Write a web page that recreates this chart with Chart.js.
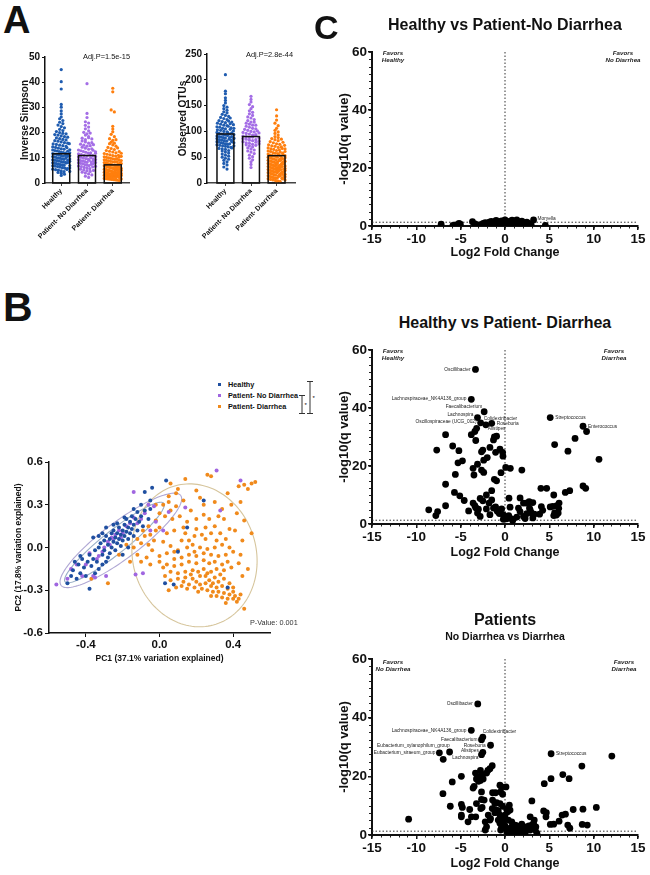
<!DOCTYPE html>
<html>
<head>
<meta charset="utf-8">
<title>Diversity and differential abundance</title>
<script src="https://cdn.jsdelivr.net/npm/chart.js@4.4.1/dist/chart.umd.min.js"></script>
<style>
  body { margin: 0; background: #fff; }
  #fig { position: relative; width: 650px; height: 875px; background: #fff; overflow: hidden;
         font-family: "Liberation Sans", Arial, sans-serif; color: #111; }
  #fig canvas { position: absolute; }
  .t { position: absolute; white-space: nowrap; height: 20px; line-height: 20px; }
  .c { text-align: center; width: 300px; }
  .b { font-weight: bold; }
  .fav { position: absolute; font-style: italic; font-weight: bold; font-size: 6.2px; line-height: 7px;
         text-align: center; width: 60px; white-space: pre; color: #222; }
  .dot { position: absolute; width: 3px; height: 3px; }
</style>
</head>
<body>
<div id="fig">
  <canvas id="a1" width="140" height="210" style="left:0;top:45px"></canvas>
  <canvas id="a2" width="145" height="210" style="left:160px;top:45px"></canvas>
  <canvas id="pca" width="300" height="220" style="left:0;top:450px"></canvas>
  <canvas id="c1" width="320" height="232" style="left:330px;top:40px"></canvas>
  <canvas id="c2" width="320" height="232" style="left:330px;top:338px"></canvas>
  <canvas id="c3" width="320" height="228" style="left:330px;top:647px"></canvas>

  <div class="t b" style="left:3px;top:0;height:40px;line-height:40px;font-size:38px">A</div>
  <div class="t b" style="left:3px;top:287px;height:40px;line-height:40px;font-size:41px">B</div>
  <div class="t b" style="left:314px;top:7px;height:40px;line-height:40px;font-size:34px">C</div>

  <div class="t" style="left:83px;top:47px;font-size:7.4px">Adj.P=1.5e-15</div>
  <div class="t" style="left:246px;top:45px;font-size:7.4px">Adj.P=2.8e-44</div>

  <div class="dot" style="left:218px;top:383px;background:#1f4fa0"></div>
  <div class="dot" style="left:218px;top:394px;background:#a066e0"></div>
  <div class="dot" style="left:218px;top:405px;background:#f08a1c"></div>
  <div class="t b" style="left:228px;top:375px;font-size:7.3px">Healthy</div>
  <div class="t b" style="left:228px;top:386px;font-size:7.3px">Patient- No Diarrhea</div>
  <div class="t b" style="left:228px;top:397px;font-size:7.3px">Patient- Diarrhea</div>
  <svg style="position:absolute;left:295px;top:376px" width="25" height="42">
    <g stroke="#333" stroke-width="1" fill="none">
      <path d="M4 19.5 H10 M7 19.5 V37.5 M4 37.5 H10"/>
      <path d="M12 5.5 H18 M15 5.5 V37.5 M12 37.5 H18"/>
    </g>
    <text x="9.5" y="31" font-size="6" font-family="Liberation Sans, Arial">*</text>
    <text x="17.5" y="24" font-size="6" font-family="Liberation Sans, Arial">*</text>
  </svg>
  <div class="t" style="left:250px;top:613px;font-size:7.3px;color:#333">P-Value: 0.001</div>

  <div class="t b c" style="left:355px;top:15px;font-size:16px">Healthy vs Patient-No Diarrhea</div>
  <div class="t b c" style="left:355px;top:313px;font-size:16px">Healthy vs Patient- Diarrhea</div>
  <div class="t b c" style="left:355px;top:610px;font-size:16px">Patients</div>
  <div class="t b c" style="left:355px;top:626px;font-size:10.5px">No Diarrhea vs Diarrhea</div>

  <div class="fav" style="left:363px;top:48.5px">Favors
Healthy</div>
  <div class="fav" style="left:593px;top:48.5px">Favors
No Diarrhea</div>
  <div class="fav" style="left:363px;top:346.5px">Favors
Healthy</div>
  <div class="fav" style="left:584px;top:346.5px">Favors
Diarrhea</div>
  <div class="fav" style="left:363px;top:657.5px">Favors
No Diarrhea</div>
  <div class="fav" style="left:594px;top:657.5px">Favors
Diarrhea</div>
</div>

<script>
// ---- panel A : alpha diversity ----
const groupNames = ['Healthy', 'Patient- No Diarrhea', 'Patient- Diarrhea'];
const simpsonMeans = [11.6, 10.9, 7.2];
const otuMeans = [95, 90, 53];

const simpsonHealthy = [45.0, 40.2, 37.3, 31.2, 30.1, 28.6, 27.4, 26.2, 25.5, 24.8, 24.1, 23.6, 23.0, 22.4, 21.9, 21.3, 20.8, 20.4, 20.0, 19.7, 19.5, 19.2, 19.0, 18.7, 18.4, 18.2, 17.9, 17.6, 17.3, 17.1, 16.8, 16.6, 16.3, 16.0, 15.8, 15.5, 15.3, 15.0, 14.8, 14.5, 14.3, 14.1, 13.8, 13.6, 13.4, 13.1, 12.9, 12.7, 12.5, 12.3, 12.1, 11.9, 11.7, 11.5, 11.3, 11.1, 10.9, 10.7, 10.5, 10.3, 10.1, 9.9, 9.8, 9.6, 9.4, 9.2, 9.0, 8.9, 8.7, 8.5, 8.3, 8.2, 8.0, 7.8, 7.7, 7.5, 7.3, 7.2, 7.0, 6.8, 6.7, 6.5, 6.3, 6.1, 5.9, 5.7, 5.5, 5.3, 5.1, 4.8, 4.5, 4.2, 3.9, 3.5, 3.0, 15.6, 14.0, 12.6, 11.0, 10.0, 9.1, 8.6, 7.9, 13.2, 11.4, 10.6, 9.5, 8.1, 12.0, 10.8, 6.9, 6.0, 5.4, 4.6];
const simpsonNoDiar = [39.4, 27.6, 26.0, 24.3, 23.8, 22.9, 22.2, 21.5, 20.7, 20.1, 19.5, 19.0, 18.4, 17.8, 17.2, 16.7, 16.3, 15.8, 15.4, 15.0, 14.6, 14.2, 13.8, 13.4, 13.1, 12.8, 12.5, 12.2, 11.9, 11.6, 11.3, 11.0, 10.7, 10.4, 10.2, 9.9, 9.7, 9.4, 9.2, 8.9, 8.7, 8.5, 8.2, 8.0, 7.8, 7.6, 7.3, 7.1, 6.9, 6.7, 6.5, 6.2, 6.0, 5.7, 5.5, 5.2, 4.9, 4.6, 4.3, 4.0, 3.6, 3.2, 2.7, 2.2, 12.0, 11.1, 10.0, 9.0, 8.3, 7.4, 13.6, 10.9, 9.6, 8.8, 14.8, 16.0, 18.0, 11.8, 10.5, 7.7, 6.4, 5.0, 19.8, 17.5, 15.2, 13.0, 12.4, 9.3, 8.1, 6.6];
const simpsonDiar = [37.6, 36.2, 29.0, 28.2, 22.5, 21.4, 20.3, 19.3, 18.4, 17.6, 16.9, 16.2, 15.6, 15.1, 14.6, 14.1, 13.7, 13.3, 12.9, 12.6, 12.3, 12.0, 11.7, 11.4, 11.2, 10.9, 10.7, 10.4, 10.2, 10.0, 9.8, 9.6, 9.4, 9.2, 9.0, 8.8, 8.6, 8.4, 8.3, 8.1, 7.9, 7.8, 7.6, 7.4, 7.3, 7.1, 7.0, 6.8, 6.7, 6.5, 6.4, 6.2, 6.1, 5.9, 5.8, 5.7, 5.5, 5.4, 5.3, 5.1, 5.0, 4.9, 4.8, 4.6, 4.5, 4.4, 4.3, 4.2, 4.1, 4.0, 3.9, 3.8, 3.7, 3.6, 3.5, 3.4, 3.3, 3.2, 3.1, 3.0, 2.9, 2.8, 2.7, 2.6, 2.5, 2.4, 2.3, 2.2, 2.1, 2.0, 1.9, 1.8, 1.7, 1.6, 1.5, 1.4, 1.3, 1.2, 1.1, 1.0, 3.0, 3.2, 3.4, 3.6, 3.8, 4.0, 4.2, 4.4, 2.8, 2.6, 2.4, 2.2, 2.0, 3.1, 3.3, 3.5, 3.7, 3.9, 4.1, 4.3, 4.7, 5.2, 5.6, 6.0, 6.3, 6.6, 6.9, 7.2, 7.5, 8.0, 8.5, 9.1, 9.7, 10.3, 11.0, 11.8, 12.5, 2.9, 2.7, 2.5, 2.3, 1.9, 1.6, 3.4, 3.6, 2.8, 3.0, 4.6, 5.4, 6.2, 7.7, 8.9, 10.6, 13.9, 15.8, 17.2, 3.2, 3.8, 4.4, 5.0, 5.8];

const otuHealthy = [210, 178, 173, 165, 160, 155, 150, 147, 144, 141, 138, 136, 133, 131, 129, 127, 125, 123, 121, 119, 117, 116, 114, 112, 111, 109, 108, 106, 105, 103, 102, 100, 99, 98, 96, 95, 94, 93, 91, 90, 89, 88, 87, 86, 84, 83, 82, 81, 80, 79, 78, 77, 76, 75, 74, 73, 72, 71, 70, 69, 67, 66, 65, 63, 62, 60, 58, 56, 54, 52, 50, 48, 46, 44, 41, 38, 35, 31, 27, 98, 104, 110, 115, 120, 92, 85, 76, 68, 101, 95, 88, 80, 72, 107, 97, 90, 83, 126, 118, 86, 113, 106, 94, 87, 78];
const otuNoDiar = [168, 162, 157, 152, 148, 144, 140, 137, 134, 131, 128, 126, 123, 121, 118, 116, 114, 112, 110, 108, 106, 104, 102, 100, 98, 96, 95, 93, 91, 90, 88, 86, 85, 83, 82, 80, 78, 77, 75, 74, 72, 70, 68, 66, 64, 62, 60, 57, 54, 51, 48, 45, 41, 36, 30, 112, 105, 99, 94, 89, 84, 79, 73, 118, 101, 92, 87, 76, 97, 81];
const otuDiar = [142, 130, 122, 116, 111, 106, 102, 99, 96, 93, 90, 88, 86, 84, 82, 80, 78, 76, 74, 72, 71, 69, 68, 66, 65, 63, 62, 61, 59, 58, 57, 56, 54, 53, 52, 51, 50, 49, 48, 47, 46, 45, 44, 43, 42, 41, 40, 39, 38, 37, 36, 35, 34, 33, 32, 31, 30, 29, 28, 27, 26, 25, 24, 23, 22, 21, 20, 19, 18, 17, 16, 15, 14, 13, 12, 11, 10, 9, 8, 7, 6, 5, 4, 3, 2, 60, 55, 50, 45, 40, 35, 30, 25, 20, 15, 10, 58, 52, 47, 43, 38, 33, 28, 23, 18, 13, 8, 48, 44, 39, 34, 29, 24, 19, 14, 9, 46, 41, 36, 31, 26, 21, 16, 11, 6, 37, 32, 27, 22, 17, 12, 70, 64, 75, 67, 85, 79, 73, 66, 61, 56, 53, 49, 42, 38, 33, 28, 24];

// ---- panel B : PCoA ----
const pcaXTicks = [-0.4, 0.0, 0.4];
const pcaYTicks = [-0.6, -0.3, 0.0, 0.3, 0.6];
const pcaHealthy = [[-0.5,-0.25],[-0.48,-0.2],[-0.47,-0.16],[-0.45,-0.22],[-0.44,-0.12],[-0.43,-0.18],[-0.42,-0.08],[-0.41,-0.14],[-0.4,-0.2],[-0.39,-0.1],[-0.38,-0.05],[-0.37,-0.13],[-0.36,-0.08],[-0.36,0.07],[-0.35,-0.02],[-0.34,-0.1],[-0.33,0.0],[-0.33,-0.15],[-0.32,0.03],[-0.31,-0.05],[-0.3,0.05],[-0.3,-0.02],[-0.29,0.08],[-0.29,-0.1],[-0.28,0.02],[-0.27,0.06],[-0.27,-0.04],[-0.26,0.1],[-0.26,0.0],[-0.25,0.04],[-0.25,0.12],[-0.24,0.07],[-0.24,-0.02],[-0.23,0.1],[-0.23,0.03],[-0.22,0.14],[-0.22,0.06],[-0.21,0.09],[-0.21,0.01],[-0.2,0.12],[-0.2,0.05],[-0.19,0.16],[-0.19,0.08],[-0.18,0.11],[-0.18,0.2],[-0.17,0.14],[-0.17,0.06],[-0.16,0.1],[-0.16,0.18],[-0.15,0.13],[-0.15,0.22],[-0.14,0.08],[-0.14,0.16],[-0.13,0.2],[-0.12,0.12],[-0.12,0.25],[-0.11,0.18],[-0.1,0.22],[-0.1,0.3],[-0.09,0.15],[-0.08,0.26],[-0.06,0.2],[-0.05,0.33],[-0.04,0.42],[-0.08,0.39],[0.036,0.47],[0.24,0.33],[0.15,0.14],[0.1,-0.03],[0.03,-0.25],[0.077,-0.26],[0.37,-0.28],[-0.38,-0.29],[-0.43,-0.06],[-0.46,-0.1],[-0.35,-0.18],[-0.31,-0.12],[-0.28,-0.07],[-0.33,0.08],[-0.23,0.17],[-0.19,0.21],[-0.14,0.27],[-0.05,0.27],[-0.29,0.14],[-0.2,-0.05],[-0.17,0.0],[-0.25,0.16],[-0.31,0.1]];
const pcaNoDiar = [[-0.14,0.39],[0.31,0.54],[0.44,0.47],[0.33,0.26],[-0.13,-0.19],[-0.09,-0.18],[-0.36,-0.2],[-0.35,-0.21],[-0.48,-0.15],[-0.45,-0.12],[-0.56,-0.26],[-0.4,-0.12],[-0.38,-0.04],[-0.34,-0.08],[-0.3,0.0],[-0.28,0.04],[-0.26,0.07],[-0.24,0.09],[-0.22,0.12],[-0.2,0.1],[-0.18,0.15],[-0.16,0.17],[-0.14,0.21],[-0.12,0.17],[-0.1,0.2],[-0.08,0.24],[-0.06,0.3],[-0.03,0.29],[-0.02,0.18],[0.05,0.25],[-0.27,0.02],[-0.25,0.06],[-0.31,-0.03],[-0.33,-0.06],[-0.21,0.07],[-0.29,-0.2],[-0.42,-0.2],[-0.5,-0.22],[0.02,0.12],[-0.05,0.12],[0.14,0.28]];
const pcaDiar = [[0.14,0.48],[0.26,0.51],[0.28,0.5],[0.1,0.41],[0.13,0.33],[0.2,0.4],[0.22,0.35],[0.24,0.3],[0.3,0.32],[0.37,0.38],[0.43,0.43],[0.46,0.44],[0.5,0.45],[0.52,0.46],[0.48,0.41],[0.44,0.32],[0.39,0.3],[0.34,0.27],[0.35,0.2],[0.46,0.19],[0.42,0.24],[0.17,0.26],[0.09,0.29],[0.06,0.26],[0.05,0.36],[0.02,0.3],[0.07,0.2],[0.11,0.22],[0.15,0.18],[0.2,0.2],[0.24,0.23],[0.27,0.2],[0.3,0.15],[0.25,0.14],[0.28,0.1],[0.33,0.1],[0.36,0.06],[0.31,0.05],[0.25,0.06],[0.19,0.08],[0.2,0.13],[0.14,0.1],[0.12,0.05],[0.08,0.12],[0.04,0.1],[0.0,0.14],[-0.02,0.12],[-0.05,0.09],[-0.08,0.08],[-0.12,0.06],[-0.1,0.03],[-0.06,0.02],[-0.03,0.05],[0.02,0.04],[0.06,0.01],[0.1,-0.02],[0.15,0.0],[0.18,0.02],[0.22,0.0],[0.26,-0.01],[0.3,0.0],[0.34,0.02],[0.38,0.0],[0.4,-0.03],[0.36,-0.05],[0.32,-0.06],[0.28,-0.05],[0.24,-0.04],[0.2,-0.06],[0.16,-0.05],[0.12,-0.07],[0.08,-0.08],[0.04,-0.04],[0.0,-0.06],[-0.04,-0.02],[-0.07,-0.07],[-0.1,-0.1],[-0.05,-0.12],[0.0,-0.1],[0.04,-0.12],[0.08,-0.13],[0.12,-0.12],[0.16,-0.1],[0.2,-0.11],[0.24,-0.09],[0.27,-0.11],[0.3,-0.1],[0.34,-0.12],[0.37,-0.1],[0.39,-0.14],[0.35,-0.16],[0.31,-0.15],[0.28,-0.17],[0.24,-0.15],[0.21,-0.17],[0.18,-0.16],[0.14,-0.17],[0.1,-0.18],[0.06,-0.17],[0.03,-0.2],[0.06,-0.23],[0.1,-0.22],[0.14,-0.21],[0.18,-0.22],[0.22,-0.2],[0.25,-0.2],[0.27,-0.23],[0.3,-0.21],[0.32,-0.24],[0.35,-0.22],[0.38,-0.25],[0.4,-0.28],[0.37,-0.29],[0.34,-0.27],[0.31,-0.28],[0.28,-0.27],[0.25,-0.25],[0.22,-0.26],[0.2,-0.24],[0.16,-0.26],[0.12,-0.27],[0.15,-0.29],[0.19,-0.28],[0.23,-0.29],[0.26,-0.3],[0.29,-0.31],[0.32,-0.31],[0.35,-0.32],[0.38,-0.33],[0.41,-0.34],[0.43,-0.36],[0.4,-0.36],[0.37,-0.36],[0.34,-0.35],[0.31,-0.34],[0.28,-0.34],[0.36,-0.39],[0.42,-0.38],[0.46,-0.43],[0.4,-0.31],[0.44,-0.33],[0.08,-0.03],[-0.02,0.19],[0.03,0.22],[0.45,0.05],[0.5,0.1],[0.41,0.12],[0.44,-0.05],[0.48,-0.15],[0.45,-0.2],[0.43,-0.11],[0.06,0.45],[0.09,0.38],[-0.12,-0.05],[-0.28,-0.25],[-0.37,-0.22],[-0.18,0.02],[-0.22,-0.05],[-0.16,-0.1],[-0.06,0.15],[-0.09,0.12],[-0.14,0.0],[0.0,0.24],[-0.02,0.3],[0.05,0.32],[0.33,-0.19],[0.29,-0.25],[0.26,-0.18],[0.21,-0.31],[0.17,-0.19],[0.13,-0.24],[0.09,-0.28],[0.05,-0.3],[0.02,-0.14],[0.19,-0.03],[0.23,0.09],[0.16,0.05],[0.32,0.22],[0.38,0.13],[0.13,0.14]];
// confidence ellipses: centre and two half-axis vectors, data units
const pcaEllipses = [
  { c: [-0.21, 0.05], u: [0.325, 0.315], v: [0.059, -0.103] },
  { c: [-0.245, 0.035], u: [0.268, 0.275], v: [0.038, -0.065] },
  { c: [0.19, -0.055], u: [0.34, -0.04], v: [0.0, 0.5] }
];

// ---- panel C : volcano plots ----
const volcXTicks = [-15, -10, -5, 0, 5, 10, 15];
const volcYTicks = [0, 20, 40, 60];
const qCut = 1.3;

const hnPoints = [[-7.2,0.6],[-5.87,0.2],[-5.57,0.35],[-5.19,0.9],[-5.04,0.6],[-3.67,1.5],[-3.37,0.7],[-2.65,0.35],[-2.46,0.9],[-2.23,1.15],[-2.0,0.7],[-1.78,1.3],[-1.55,1.6],[-1.33,0.9],[-1.17,1.5],[-0.95,0.7],[-0.76,1.15],[-0.57,1.5],[-0.38,1.8],[-0.19,1.15],[0.0,2.1],[0.19,1.4],[0.38,0.9],[0.57,1.7],[0.76,1.15],[0.95,0.7],[1.14,1.5],[1.33,2.1],[1.52,1.4],[1.7,0.9],[1.9,1.7],[2.08,1.15],[2.27,0.7],[2.46,1.3],[2.69,0.9],[2.95,0.35],[4.55,0.25],[-2.8,0.5],[-1.5,0.4],[-0.5,0.6],[0.4,0.3],[1.2,0.4],[2.0,0.3],[-1.0,1.9],[0.8,2.0],[-0.2,0.4],[1.6,0.5]];
const hnNames = ['Moryella'];
const hnLabeled = [[3.22, 2.1]];

const hdPoints = [[9.2,31.9],[-3.4,31.9],[-3.2,33.0],[-6.7,30.8],[-3.8,30.8],[-3.3,28.8],[-1.3,29.0],[-1.2,30.0],[-7.7,25.5],[-5.9,26.9],[-5.2,25.3],[-5.3,21.1],[-4.8,21.8],[-5.6,17.1],[-6.7,13.7],[-3.6,19.2],[-3.5,16.9],[-3.1,20.6],[-2.65,24.9],[-2.5,25.5],[-2.4,22.0],[-2.0,22.9],[-2.4,17.8],[-2.65,18.6],[-1.7,26.4],[-1.06,24.7],[-0.57,25.8],[-0.27,24.7],[-0.23,23.4],[-1.2,15.4],[-0.95,14.9],[-0.45,17.7],[0.08,19.5],[0.6,19.2],[1.9,18.6],[-1.5,11.5],[-2.1,10.0],[-5.7,10.9],[-5.1,9.7],[-4.6,8.1],[-6.7,6.3],[-8.6,4.9],[-7.6,4.3],[-7.8,2.9],[-4.1,4.5],[-3.6,7.2],[-3.4,6.3],[-3.3,5.6],[-3.0,5.1],[-2.8,2.6],[-3.1,3.8],[-2.8,8.8],[-2.5,8.0],[-2.1,5.2],[-1.8,7.2],[-1.5,8.3],[-1.3,5.5],[-1.06,5.9],[-0.87,4.4],[-0.64,3.6],[-0.38,5.2],[-0.19,3.1],[-1.7,3.2],[0.45,8.9],[0.57,5.8],[-0.19,1.6],[0.19,1.8],[0.76,1.8],[0.87,1.2],[0.42,2.9],[1.52,5.5],[1.7,4.3],[2.08,2.6],[1.33,2.4],[2.27,1.9],[2.46,3.6],[2.76,5.5],[2.95,3.9],[3.14,2.1],[3.3,3.4],[2.08,7.2],[2.38,7.2],[2.72,7.7],[3.14,7.4],[1.7,9.0],[2.84,4.8],[4.1,6.0],[4.25,4.7],[3.9,3.4],[4.05,12.3],[4.7,12.3],[5.1,5.9],[5.4,6.1],[5.6,3.8],[5.5,2.9],[5.8,3.1],[6.0,3.8],[6.1,7.2],[6.06,5.4],[5.85,6.3],[5.5,10.0],[5.6,27.4],[7.1,25.1],[6.8,10.9],[7.3,11.5],[7.9,29.5],[8.8,13.1],[9.1,12.3],[10.6,22.3]];
const hdNames = ['Oscillibacter', 'Lachnospiraceae_NK4A136_group', 'Faecalibacterium', 'Lachnospira', 'Oscillospiraceae (UCG_002)', 'Colidextribacter', 'Roseburia', 'Alistipes', 'Streptococcus', 'Enterococcus'];
const hdLabeled = [[-3.33,53.3],[-3.8,43.0],[-2.35,38.7],[-3.1,36.7],[-2.75,34.9],[-2.16,34.2],[-1.5,34.7],[-0.95,30.3],[5.1,36.7],[8.8,33.7]];

const ndPoints = [[-6.97,25.8],[12.05,26.9],[8.67,23.5],[-1.44,23.6],[-1.7,22.6],[-1.93,22.0],[-2.08,21.1],[-2.77,22.0],[-2.54,20.7],[-2.84,20.0],[-2.46,19.1],[-2.77,18.6],[-3.33,21.1],[-3.22,19.1],[-2.99,18.3],[-3.6,16.0],[-3.48,16.6],[-4.92,20.0],[-5.95,18.1],[-7.0,14.1],[-6.17,9.8],[-4.92,10.4],[-4.81,9.4],[-4.92,6.8],[-4.92,6.2],[-3.98,8.7],[-3.79,6.2],[-4.17,4.5],[-3.22,10.7],[-3.3,6.2],[-2.73,9.0],[-2.58,9.4],[-2.65,12.1],[-2.35,11.9],[-2.65,14.7],[-1.4,14.4],[-1.06,14.4],[-2.23,4.5],[-2.23,1.7],[-2.08,2.8],[-1.89,6.8],[-1.63,5.6],[-1.4,11.9],[-1.44,9.0],[-1.7,5.1],[-0.95,11.0],[-0.95,8.5],[-0.76,8.2],[-0.57,17.0],[-0.38,16.4],[-0.49,14.7],[-0.27,13.9],[0.11,16.4],[-0.57,10.7],[-0.27,9.8],[0.19,8.7],[0.49,10.2],[0.3,7.9],[0.57,8.5],[0.0,6.8],[-0.76,5.1],[-0.57,4.0],[-0.38,2.8],[-0.19,4.5],[0.0,3.1],[0.19,2.3],[0.38,1.5],[0.57,0.9],[0.76,2.8],[0.95,2.0],[1.14,1.1],[1.33,3.1],[1.52,2.3],[1.7,1.7],[1.89,3.7],[2.08,1.1],[2.27,2.8],[2.46,2.3],[2.69,3.1],[2.84,1.7],[3.03,3.4],[3.22,4.0],[3.41,1.7],[3.6,0.6],[3.48,2.8],[3.3,5.1],[2.84,6.2],[3.03,11.6],[4.36,8.2],[4.66,7.6],[4.62,6.2],[4.43,17.5],[5.19,19.2],[6.52,20.6],[7.23,19.2],[5.11,3.6],[5.49,3.7],[6.1,4.7],[6.44,6.8],[6.82,7.1],[7.69,8.7],[7.08,3.4],[7.31,2.3],[8.79,8.8],[9.28,3.4],[8.71,3.6],[10.3,9.4],[-10.87,5.4],[-1.14,10.7],[-1.14,7.6],[-0.57,6.8],[-0.19,5.6],[0.38,5.1],[0.76,4.5],[1.14,3.4],[1.33,1.1],[1.7,0.6],[0.19,1.1],[-0.49,1.7],[2.27,0.6]];
const ndNames = ['Oscillibacter', 'Lachnospiraceae_NK4A136_group', 'Colidextribacter', 'Faecalibacterium', 'Roseburia', 'Alistipes', 'Lachnospira', 'Eubacterium_xylanophilum_group', 'Eubacterium_siraeum_group', 'Streptococcus'];
const ndLabeled = [[-3.07,44.7],[-3.8,35.7],[-2.5,33.4],[-2.65,32.5],[-1.63,30.6],[-2.5,28.2],[-2.65,27.4],[-6.25,28.3],[-7.4,28.0],[5.2,27.7]];

// label placement next to its point: [dx px, dy px, align]
const hnPlace = [[4, -1, 'left']];
const hdPlace = [[-5,0,'right'],[-5,-1,'right'],[-2,-5,'right'],[-4,-3,'right'],[-4,-1,'right'],[-2,-6,'left'],[5,0,'left'],[0,-7,'center'],[5,0,'left'],[5,0,'left']];
const ndPlace = [[-5,0,'right'],[-5,0,'right'],[0,-5,'left'],[-4,0,'right'],[-5,0,'right'],[-4,-2,'right'],[-3,3,'right'],[0,-6,'right'],[-4,0,'right'],[5,0,'left']];

const FONT = '"Liberation Sans", Arial, sans-serif';
Chart.defaults.font.family = FONT;
Chart.defaults.color = '#111';
Chart.defaults.animation = false;

const colHealthy = '#1f5cb0', colNoDiar = '#a46ee6', colDiar = '#ff7f0e';

// spread dots of one group sideways, row by row (GraphPad style scatter)
function swarm(values, center, bin, step, half) {
  const rows = {};
  values.forEach(v => {
    const k = Math.round(v / bin);
    (rows[k] = rows[k] || []).push(v);
  });
  const out = [];
  Object.keys(rows).forEach(k => {
    const r = rows[k];
    const n = r.length;
    let s = step;
    if (n > 1 && (n - 1) * s / 2 > half) s = 2 * half / (n - 1);
    r.forEach((v, i) => out.push({ x: center + (i - (n - 1) / 2) * s, y: v }));
  });
  return out;
}

// outlined mean bars, drawn over the dots through the x / y scales
function meanBars(means) {
  return {
    id: 'meanBars',
    afterDatasetsDraw(chart) {
      const { ctx, scales: { x, y } } = chart;
      const half = (x.getPixelForValue(1) - x.getPixelForValue(0)) * 0.33;
      ctx.save();
      ctx.strokeStyle = '#111';
      ctx.lineWidth = 1.5;
      means.forEach((m, i) => {
        const cx = x.getPixelForValue(i), top = y.getPixelForValue(m), base = y.getPixelForValue(0);
        ctx.strokeRect(cx - half, top, half * 2, base - top);
      });
      ctx.restore();
    }
  };
}

function dotBar(id, means, groups, yMax, yStep, yTitle, bin, xMin, xMax, yW, pad) {
  const cols = [colHealthy, colNoDiar, colDiar];
  const ds = groups.map((g, i) => ({
    data: swarm(g, i, bin, 0.125, 0.33),
    backgroundColor: cols[i], borderWidth: 0, pointRadius: 1.6
  }));
  return new Chart(document.getElementById(id), {
    type: 'scatter',
    data: { datasets: ds },
    options: {
      responsive: false,
      layout: { padding: { top: pad[0], right: pad[1], left: 0, bottom: 0 } },
      plugins: { legend: { display: false }, tooltip: { enabled: false } },
      scales: {
        x: {
          type: 'linear', min: xMin, max: xMax,
          afterBuildTicks: s => { s.ticks = [0, 1, 2].map(v => ({ value: v })); },
          afterFit: s => { s.height = 72; },
          ticks: { callback: v => groupNames[v], minRotation: 45, maxRotation: 45, autoSkip: false,
                   font: { size: 7, weight: 'bold' }, padding: 1, color: '#111' },
          grid: { display: true, drawOnChartArea: false, tickLength: 3, color: '#444' },
          border: { display: true, color: '#444', width: 1.5 }
        },
        y: {
          min: 0, max: yMax,
          ticks: { stepSize: yStep, font: { size: 10, weight: 'bold' }, padding: 2, color: '#111' },
          afterFit: s => { s.width = yW; },
          grid: { display: true, drawOnChartArea: false, tickLength: 3, color: '#111' },
          border: { display: true, color: '#111', width: 1.5 },
          title: { display: true, text: yTitle, font: { size: 10, weight: 'bold' }, padding: { top: pad[2], bottom: 0 } }
        }
      }
    },
    plugins: [meanBars(means)]
  });
}

dotBar('a1', simpsonMeans, [simpsonHealthy, simpsonNoDiar, simpsonDiar], 50, 10, 'Inverse Simpson', 1.25, -0.63, 2.63, 45, [12, 11, 19]);
dotBar('a2', otuMeans, [otuHealthy, otuNoDiar, otuDiar], 250, 50, 'Observed OTUs', 6, -0.72, 2.72, 47, [9, 10, 17]);

// ---- PCoA ----
const ellipseCols = ['#b0a8d4', '#98aec6', '#d6c59c'];
const ellipsePlugin = {
  id: 'ellipses',
  beforeDatasetsDraw(chart) {
    const { ctx, scales: { x, y } } = chart;
    pcaEllipses.forEach((e, k) => {
      ctx.save();
      ctx.strokeStyle = ellipseCols[k];
      ctx.lineWidth = 1.1;
      ctx.beginPath();
      for (let i = 0; i <= 144; i++) {
        const t = i / 144 * Math.PI * 2;
        const dx = e.c[0] + Math.cos(t) * e.u[0] + Math.sin(t) * e.v[0];
        const dy = e.c[1] + Math.cos(t) * e.u[1] + Math.sin(t) * e.v[1];
        const px = x.getPixelForValue(dx), py = y.getPixelForValue(dy);
        if (i) ctx.lineTo(px, py); else ctx.moveTo(px, py);
      }
      ctx.stroke();
      ctx.restore();
    });
  }
};

const toXY = arr => arr.map(p => ({ x: p[0], y: p[1] }));
new Chart(document.getElementById('pca'), {
  type: 'scatter',
  data: {
    datasets: [
      { data: toXY(pcaHealthy), backgroundColor: '#1f4fa0', borderWidth: 0, pointRadius: 2, order: 1 },
      { data: toXY(pcaNoDiar), backgroundColor: '#a066e0', borderWidth: 0, pointRadius: 2, order: 2 },
      { data: toXY(pcaDiar), backgroundColor: '#f08a1c', borderWidth: 0, pointRadius: 2, order: 3 }
    ]
  },
  options: {
    responsive: false,
    layout: { padding: { top: 12, right: 30, left: 0, bottom: 0 } },
    plugins: { legend: { display: false }, tooltip: { enabled: false } },
    scales: {
      x: {
        type: 'linear', min: -0.6, max: 0.6,
        afterBuildTicks: s => { s.ticks = pcaXTicks.map(v => ({ value: v })); },
        afterFit: s => { s.height = 37; },
        ticks: { callback: v => v.toFixed(1), font: { size: 11.5, weight: 'bold' }, padding: 1, maxRotation: 0, color: '#111' },
        grid: { display: true, drawOnChartArea: false, tickLength: 4, color: '#111' },
        border: { display: true, color: '#111', width: 1.5 },
        title: { display: true, text: 'PC1 (37.1% variation explained)', font: { size: 8.5, weight: 'bold' }, padding: { top: 0, bottom: 6 } }
      },
      y: {
        min: -0.6, max: 0.6,
        afterBuildTicks: s => { s.ticks = pcaYTicks.map(v => ({ value: v })); },
        afterFit: s => { s.width = 49; },
        ticks: { callback: v => v.toFixed(1), font: { size: 11.5, weight: 'bold' }, padding: 2, color: '#111' },
        grid: { display: true, drawOnChartArea: false, tickLength: 4, color: '#111' },
        border: { display: true, color: '#111', width: 1.5 },
        title: { display: true, text: 'PC2 (17.8% variation explained)', font: { size: 8.5, weight: 'bold' }, padding: { top: 14, bottom: 0 } }
      }
    }
  },
  plugins: [ellipsePlugin]
});

// ---- volcano plots ----
function volcanoDeco(names, labeled, place) {
  return {
    id: 'deco',
    beforeDatasetsDraw(chart) {
      const { ctx, chartArea: a, scales: { x, y } } = chart;
      const x0 = x.getPixelForValue(0), yq = y.getPixelForValue(qCut);
      ctx.save();
      ctx.setLineDash([1.5, 2]);
      ctx.strokeStyle = '#333';
      ctx.lineWidth = 1;
      ctx.beginPath();
      ctx.moveTo(x0, a.top); ctx.lineTo(x0, a.bottom);
      ctx.moveTo(a.left, yq); ctx.lineTo(a.right, yq);
      ctx.stroke();
      ctx.restore();
    },
    afterDraw(chart) {
      const { ctx, chartArea: a, scales: { x, y } } = chart;
      ctx.save();
      ctx.strokeStyle = '#222';
      ctx.lineWidth = 1;
      ctx.beginPath();
      for (let v = 0; v <= 60; v += 2.5) {
        const py = Math.round(y.getPixelForValue(v)) + 0.5;
        ctx.moveTo(a.left - 1, py); ctx.lineTo(a.left - 3, py);
      }
      for (let v = -15; v <= 15; v += 1) {
        const px = Math.round(x.getPixelForValue(v)) + 0.5;
        ctx.moveTo(px, a.bottom + 1); ctx.lineTo(px, a.bottom + 2.5);
      }
      ctx.stroke();
      ctx.font = '4.8px ' + FONT;
      ctx.fillStyle = '#222';
      ctx.textBaseline = 'middle';
      names.forEach((n, i) => {
        const p = place[i];
        ctx.textAlign = p[2];
        ctx.fillText(n, x.getPixelForValue(labeled[i][0]) + p[0], y.getPixelForValue(labeled[i][1]) + p[1]);
      });
      ctx.restore();
    }
  };
}

function volcano(id, points, names, labeled, place, xH, titlePad) {
  return new Chart(document.getElementById(id), {
    type: 'scatter',
    data: {
      datasets: [
        { data: toXY(points), backgroundColor: '#000', borderWidth: 0, pointRadius: 3.4 },
        { data: toXY(labeled), backgroundColor: '#000', borderWidth: 0, pointRadius: 3.4 }
      ]
    },
    options: {
      responsive: false,
      layout: { padding: { top: 12, right: 12, left: 0, bottom: 0 } },
      plugins: { legend: { display: false }, tooltip: { enabled: false } },
      scales: {
        x: {
          type: 'linear', min: -15, max: 15,
          afterBuildTicks: s => { s.ticks = volcXTicks.map(v => ({ value: v })); },
          afterFit: s => { s.height = xH; },
          ticks: { font: { size: 13.5, weight: 'bold' }, padding: 1, maxRotation: 0, color: '#111' },
          grid: { display: true, drawOnChartArea: false, tickLength: 4, color: '#111', lineWidth: 1.5 },
          border: { display: true, color: '#111', width: 2 },
          title: { display: true, text: 'Log2 Fold Change', font: { size: 12.5, weight: 'bold' }, padding: { top: 0, bottom: titlePad } }
        },
        y: {
          min: 0, max: 60,
          afterBuildTicks: s => { s.ticks = volcYTicks.map(v => ({ value: v })); },
          afterFit: s => { s.width = 42; },
          ticks: { font: { size: 13.5, weight: 'bold' }, padding: 1, color: '#111' },
          grid: { display: true, drawOnChartArea: false, tickLength: 4, color: '#111', lineWidth: 1.5 },
          border: { display: true, color: '#111', width: 2 },
          title: { display: true, text: '-log10(q value)', font: { size: 13, weight: 'bold' }, padding: { top: 7, bottom: 0 } }
        }
      }
    },
    plugins: [volcanoDeco(names, labeled, place)]
  });
}

volcano('c1', hnPoints, hnNames, hnLabeled, hnPlace, 46, 12);
volcano('c2', hdPoints, hdNames, hdLabeled, hdPlace, 46, 10);
volcano('c3', ndPoints, ndNames, ndLabeled, ndPlace, 40, 4);
</script>
</body>
</html>
